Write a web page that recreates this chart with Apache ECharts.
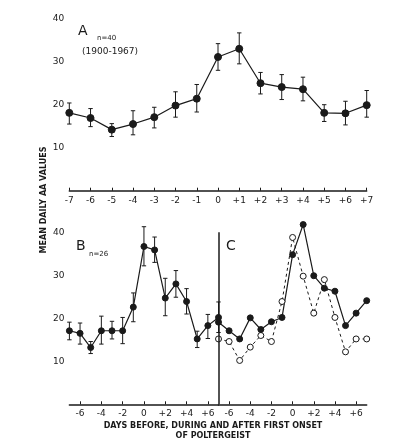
<!DOCTYPE html>
<html>
<head>
<meta charset="utf-8">
<script src="https://cdn.jsdelivr.net/npm/echarts@6/dist/echarts.min.js"></script>
<style>
	html, body { margin: 0; padding: 0; background: #fff; }
	#chart { width: 398px; height: 444px; }
</style>
</head>
<body>
<div id="chart"></div>
<script>
// 数据
const daysA = ['-7', '-6', '-5', '-4', '-3', '-2', '-1', '0', '+1', '+2', '+3', '+4', '+5', '+6', '+7'];
const meanA = [18.1, 16.9, 14.2, 15.5, 17.1, 19.8, 21.4, 31.1, 33.0, 25.0, 24.1, 23.6, 18.1, 18.0, 19.9];
const lowA = [15.5, 14.9, 12.6, 13.0, 14.6, 17.1, 18.3, 28.0, 29.5, 22.5, 21.2, 20.9, 16.1, 15.3, 17.1];
const highA = [20.4, 19.1, 15.6, 18.6, 19.4, 23.0, 24.7, 34.2, 36.7, 27.5, 27.0, 26.4, 20.0, 20.8, 23.3];

const daysB = daysA;
const meanB = [17.1, 16.5, 13.2, 17.1, 17.1, 17.1, 22.6, 36.7, 35.9, 24.7, 28.0, 23.9, 15.2, 18.3, 20.2];
const lowB = [15.0, 14.0, 11.8, 14.0, 15.2, 14.1, 19.2, 32.2, 33.0, 20.6, 24.9, 21.0, 13.2, 15.3, 16.7];
const highB = [19.1, 18.9, 14.6, 20.5, 19.3, 20.2, 25.9, 41.3, 38.9, 29.3, 31.1, 26.9, 17.0, 20.9, 23.8];

const daysC = daysA;
const filledC = [19.1, 17.1, 15.2, 20.1, 17.4, 19.2, 20.2, 34.8, 41.8, 29.9, 27.0, 26.3, 18.3, 21.2, 24.1];
const openC = [15.2, 14.6, 10.2, 13.3, 16.0, 14.6, 23.9, 38.8, 29.8, 21.2, 29.0, 20.2, 12.2, 15.2, 15.2];

const yTicks = [10, 20, 30, 40];

const ink = '#1a1a1a';
const font = 'DejaVu Sans';

// 误差线
function errorBars(low, high, idx) {
	return {
		type: 'custom',
		xAxisIndex: idx,
		yAxisIndex: idx,
		z: 1,
		silent: true,
		data: low.map((v, i) => [i, v, high[i]]),
		renderItem: function (params, api) {
			const top = api.coord([api.value(0), api.value(2)]);
			const bot = api.coord([api.value(0), api.value(1)]);
			const w = 2.2;
			const st = { stroke: ink, lineWidth: 1 };
			return {
				type: 'group',
				children: [
					{ type: 'line', shape: { x1: top[0], y1: top[1], x2: bot[0], y2: bot[1] }, style: st },
					{ type: 'line', shape: { x1: top[0] - w, y1: top[1], x2: top[0] + w, y2: top[1] }, style: st },
					{ type: 'line', shape: { x1: bot[0] - w, y1: bot[1], x2: bot[0] + w, y2: bot[1] }, style: st }
				]
			};
		}
	};
}

function xAxisCfg(idx, data, everyOther) {
	const show = everyOther ? function (i) { return i % 2 === 1; } : 0;
	return {
		type: 'category',
		gridIndex: idx,
		data: data,
		boundaryGap: false,
		axisLine: { lineStyle: { color: ink, width: 1.5 } },
		axisTick: { show: true, inside: true, length: 3, interval: show, lineStyle: { color: ink } },
		axisLabel: { interval: show, color: ink, fontSize: 9, fontFamily: font, margin: 5 },
		splitLine: { show: false }
	};
}

function yAxisCfg(idx, showLabels) {
	return {
		type: 'value',
		gridIndex: idx,
		min: 0,
		max: 40,
		interval: 10,
		axisLine: { show: false },
		axisTick: { show: false },
		splitLine: { show: false },
		axisLabel: {
			show: showLabels,
			color: ink,
			fontSize: 9,
			fontFamily: font,
			margin: 5,
			formatter: function (v) { return yTicks.indexOf(v) >= 0 ? String(v) : ''; }
		}
	};
}

function lineSeries(data, idx, opts) {
	return Object.assign({
		type: 'line',
		xAxisIndex: idx,
		yAxisIndex: idx,
		data: data,
		clip: false,
		z: 3,
		symbol: 'circle',
		symbolSize: 6,
		itemStyle: { color: ink, borderColor: ink, borderWidth: 1 },
		lineStyle: { color: ink, width: 1.2 }
	}, opts);
}

let myChart = echarts.init(document.getElementById('chart'));
let option = {
	backgroundColor: '#fff',
	animation: false,
	grid: [
		{ left: 69.3, top: 18.7, width: 297.4, height: 172 },
		{ left: 69.4, top: 232.3, width: 149.1, height: 172 },
		{ left: 218.5, top: 232.3, width: 148.2, height: 172 }
	],
	xAxis: [
		xAxisCfg(0, daysA, false),
		xAxisCfg(1, daysB, true),
		xAxisCfg(2, daysC, true)
	],
	yAxis: [
		yAxisCfg(0, true),
		yAxisCfg(1, true),
		Object.assign(yAxisCfg(2, false), { show: false })
	],
	series: [
		errorBars(lowA, highA, 0),
		lineSeries(meanA, 0, { symbolSize: 7 }),
		errorBars(lowB, highB, 1),
		lineSeries(meanB, 1, {
			markLine: {
				silent: true,
				symbol: 'none',
				label: { show: false },
				lineStyle: { color: ink, type: 'solid', width: 1.5 },
				data: [{ xAxis: daysB.length - 1 }]
			}
		}),
		lineSeries(openC, 2, {
			itemStyle: { color: '#fff', borderColor: ink, borderWidth: 1 },
			lineStyle: { color: ink, width: 1, type: [3, 3] },
			symbolSize: 6
		}),
		lineSeries(filledC, 2, {})
	],
	graphic: [
		{ type: 'text', left: 78, top: 24, style: { text: 'A', font: '14px ' + font, fill: ink } },
		{ type: 'text', left: 97, top: 35, style: { text: 'n=40', font: '7px ' + font, fill: ink } },
		{ type: 'text', left: 82, top: 47, style: { text: '(1900-1967)', font: '9px ' + font, fill: ink } },
		{ type: 'text', left: 76, top: 239, style: { text: 'B', font: '14px ' + font, fill: ink } },
		{ type: 'text', left: 89, top: 251, style: { text: 'n=26', font: '7px ' + font, fill: ink } },
		{ type: 'text', left: 226, top: 239, style: { text: 'C', font: '14px ' + font, fill: ink } },
		{
			type: 'text', x: 44, y: 200, rotation: Math.PI / 2,
			style: { text: 'MEAN DAILY AA VALUES', font: 'bold 8px ' + font, fill: ink, textAlign: 'center', textVerticalAlign: 'middle' }
		},
		{
			type: 'text', x: 213, y: 426,
			style: { text: 'DAYS BEFORE, DURING AND AFTER FIRST ONSET', font: 'bold 8px ' + font, fill: ink, textAlign: 'center', textVerticalAlign: 'middle' }
		},
		{
			type: 'text', x: 213, y: 436,
			style: { text: 'OF POLTERGEIST', font: 'bold 8px ' + font, fill: ink, textAlign: 'center', textVerticalAlign: 'middle' }
		}
	]
};
myChart.setOption(option);
window.addEventListener('resize', function () {
	myChart.resize();
});
</script>
</body>
</html>
